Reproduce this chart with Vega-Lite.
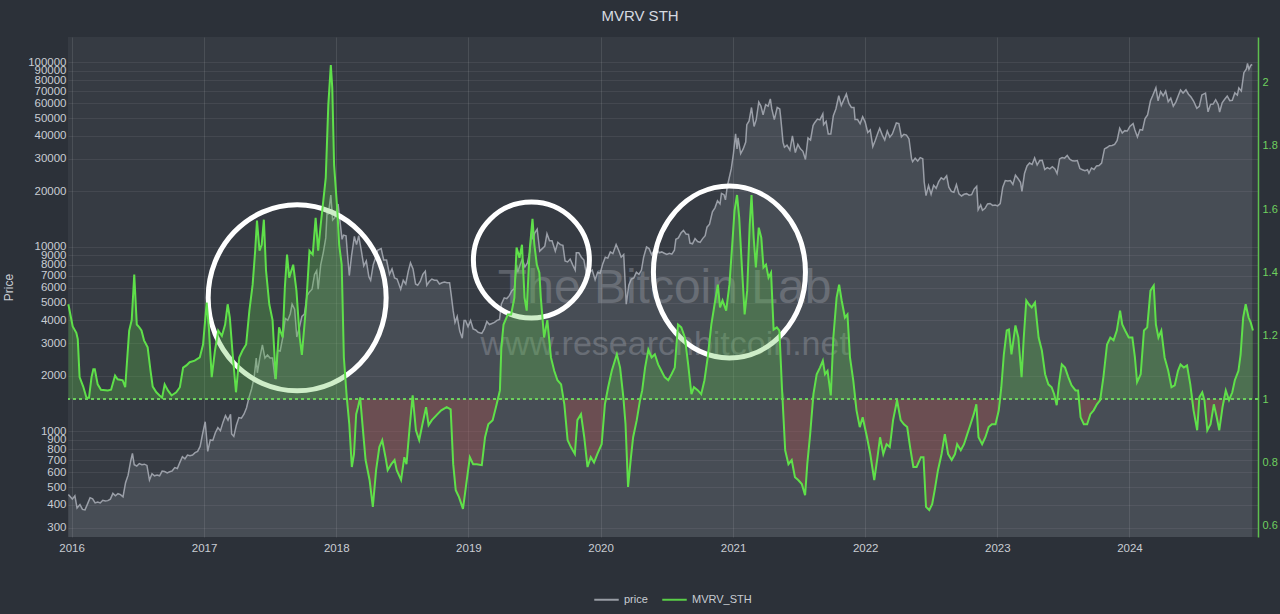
{
"$schema": "https://vega.github.io/schema/vega-lite/v6.json",
"width": 1190, "height": 500, "autosize": "none",
"padding": {"left": 68, "top": 37, "right": 22, "bottom": 77},
"background": "#2c3139",
"title": {"text": "MVRV STH", "color": "#d6dae0", "fontSize": 15, "fontWeight": "normal", "font": "Liberation Sans", "anchor": "middle", "offset": 13, "dx": -23},
"config": {
 "view": {"fill": "#363b43", "stroke": null},
 "font": "Liberation Sans",
 "axis": {"labelFont": "Liberation Sans", "titleFont": "Liberation Sans"}
},
"datasets": {
"price": [
{"date":"2015-12-23","price":455},{"date":"2016-01-03","price":430},{"date":"2016-01-10","price":448},{"date":"2016-01-16","price":385},{"date":"2016-01-24","price":402},{"date":"2016-01-31","price":378},{"date":"2016-02-07","price":376},{"date":"2016-02-14","price":405},{"date":"2016-02-21","price":438},{"date":"2016-02-28","price":432},{"date":"2016-03-06","price":410},{"date":"2016-03-13","price":414},{"date":"2016-03-20","price":410},{"date":"2016-03-27","price":424},{"date":"2016-04-03","price":420},{"date":"2016-04-10","price":422},{"date":"2016-04-17","price":430},{"date":"2016-04-24","price":462},{"date":"2016-05-01","price":448},{"date":"2016-05-08","price":460},{"date":"2016-05-15","price":455},{"date":"2016-05-22","price":443},{"date":"2016-05-29","price":528},{"date":"2016-06-05","price":580},{"date":"2016-06-12","price":690},{"date":"2016-06-17","price":760},{"date":"2016-06-22","price":660},{"date":"2016-06-29","price":650},{"date":"2016-07-06","price":670},{"date":"2016-07-13","price":660},{"date":"2016-07-20","price":665},{"date":"2016-07-27","price":655},{"date":"2016-08-03","price":545},{"date":"2016-08-10","price":590},{"date":"2016-08-17","price":575},{"date":"2016-08-24","price":580},{"date":"2016-08-31","price":575},{"date":"2016-09-07","price":610},{"date":"2016-09-14","price":607},{"date":"2016-09-21","price":597},{"date":"2016-09-28","price":605},{"date":"2016-10-05","price":612},{"date":"2016-10-12","price":637},{"date":"2016-10-19","price":630},{"date":"2016-10-26","price":680},{"date":"2016-11-02","price":730},{"date":"2016-11-09","price":710},{"date":"2016-11-16","price":745},{"date":"2016-11-23","price":740},{"date":"2016-11-30","price":745},{"date":"2016-12-07","price":768},{"date":"2016-12-14","price":780},{"date":"2016-12-21","price":830},{"date":"2016-12-28","price":975},
{"date":"2017-01-04","price":1130},{"date":"2017-01-11","price":780},{"date":"2017-01-18","price":900},{"date":"2017-01-25","price":895},{"date":"2017-02-01","price":985},{"date":"2017-02-08","price":1050},{"date":"2017-02-15","price":1010},{"date":"2017-02-22","price":1120},{"date":"2017-03-01","price":1220},{"date":"2017-03-08","price":1150},{"date":"2017-03-15","price":1240},{"date":"2017-03-18","price":970},{"date":"2017-03-24","price":940},{"date":"2017-03-31","price":1080},{"date":"2017-04-07","price":1190},{"date":"2017-04-14","price":1180},{"date":"2017-04-21","price":1240},{"date":"2017-04-28","price":1340},{"date":"2017-05-05","price":1530},{"date":"2017-05-12","price":1700},{"date":"2017-05-19","price":1960},{"date":"2017-05-25","price":2500},{"date":"2017-05-28","price":2080},{"date":"2017-06-04","price":2520},{"date":"2017-06-11","price":2950},{"date":"2017-06-18","price":2500},{"date":"2017-06-25","price":2600},{"date":"2017-07-02","price":2500},{"date":"2017-07-09","price":2500},{"date":"2017-07-16","price":1930},{"date":"2017-07-23","price":2750},{"date":"2017-07-30","price":2730},{"date":"2017-08-06","price":3220},{"date":"2017-08-13","price":4100},{"date":"2017-08-20","price":4000},{"date":"2017-08-27","price":4350},{"date":"2017-09-01","price":4900},{"date":"2017-09-08","price":4600},{"date":"2017-09-14","price":3250},{"date":"2017-09-21","price":3650},{"date":"2017-09-28","price":4200},{"date":"2017-10-05","price":4330},{"date":"2017-10-12","price":5440},{"date":"2017-10-19","price":5710},{"date":"2017-10-26","price":5900},{"date":"2017-11-02","price":7100},{"date":"2017-11-08","price":7450},{"date":"2017-11-12","price":5900},{"date":"2017-11-19","price":8000},{"date":"2017-11-26","price":9300},{"date":"2017-12-03","price":11200},{"date":"2017-12-07","price":16000},{"date":"2017-12-10","price":15000},{"date":"2017-12-17","price":19100},{"date":"2017-12-22","price":14000},{"date":"2017-12-28","price":14400},
{"date":"2018-01-06","price":17100},{"date":"2018-01-10","price":14500},{"date":"2018-01-17","price":11000},{"date":"2018-01-21","price":11600},{"date":"2018-01-28","price":11500},{"date":"2018-02-01","price":9100},{"date":"2018-02-06","price":7000},{"date":"2018-02-12","price":8900},{"date":"2018-02-20","price":11400},{"date":"2018-02-26","price":10300},{"date":"2018-03-04","price":11500},{"date":"2018-03-11","price":9600},{"date":"2018-03-18","price":7900},{"date":"2018-03-25","price":8400},{"date":"2018-04-01","price":6900},{"date":"2018-04-06","price":6600},{"date":"2018-04-13","price":8000},{"date":"2018-04-20","price":8800},{"date":"2018-04-25","price":9600},{"date":"2018-05-05","price":9800},{"date":"2018-05-12","price":8500},{"date":"2018-05-20","price":8500},{"date":"2018-05-28","price":7100},{"date":"2018-06-04","price":7600},{"date":"2018-06-11","price":6800},{"date":"2018-06-18","price":6700},{"date":"2018-06-28","price":5900},{"date":"2018-07-05","price":6600},{"date":"2018-07-12","price":6300},{"date":"2018-07-19","price":7400},{"date":"2018-07-25","price":8200},{"date":"2018-08-01","price":7600},{"date":"2018-08-08","price":6300},{"date":"2018-08-14","price":6200},{"date":"2018-08-21","price":6500},{"date":"2018-08-28","price":7100},{"date":"2018-09-04","price":7400},{"date":"2018-09-08","price":6200},{"date":"2018-09-15","price":6500},{"date":"2018-09-22","price":6700},{"date":"2018-09-29","price":6600},{"date":"2018-10-06","price":6600},{"date":"2018-10-13","price":6300},{"date":"2018-10-20","price":6400},{"date":"2018-10-27","price":6450},{"date":"2018-11-03","price":6400},{"date":"2018-11-10","price":6400},{"date":"2018-11-14","price":5600},{"date":"2018-11-20","price":4500},{"date":"2018-11-25","price":3900},{"date":"2018-12-01","price":4200},{"date":"2018-12-08","price":3500},{"date":"2018-12-15","price":3200},{"date":"2018-12-20","price":4000},{"date":"2018-12-24","price":4000},{"date":"2018-12-31","price":3700},
{"date":"2019-01-07","price":4000},{"date":"2019-01-14","price":3600},{"date":"2019-01-21","price":3550},{"date":"2019-01-28","price":3450},{"date":"2019-02-07","price":3400},{"date":"2019-02-14","price":3600},{"date":"2019-02-21","price":3950},{"date":"2019-02-28","price":3800},{"date":"2019-03-07","price":3850},{"date":"2019-03-14","price":3900},{"date":"2019-03-21","price":4000},{"date":"2019-03-28","price":4050},{"date":"2019-04-02","price":4900},{"date":"2019-04-10","price":5300},{"date":"2019-04-17","price":5250},{"date":"2019-04-24","price":5450},{"date":"2019-05-01","price":5800},{"date":"2019-05-08","price":5950},{"date":"2019-05-14","price":8000},{"date":"2019-05-17","price":7300},{"date":"2019-05-24","price":8000},{"date":"2019-05-30","price":8600},{"date":"2019-06-06","price":7800},{"date":"2019-06-13","price":8200},{"date":"2019-06-20","price":9500},{"date":"2019-06-26","price":12900},{"date":"2019-06-28","price":11000},{"date":"2019-07-03","price":11900},{"date":"2019-07-10","price":12500},{"date":"2019-07-17","price":9500},{"date":"2019-07-24","price":9800},{"date":"2019-07-31","price":10100},{"date":"2019-08-06","price":11800},{"date":"2019-08-13","price":10800},{"date":"2019-08-20","price":10800},{"date":"2019-08-29","price":9500},{"date":"2019-09-05","price":10600},{"date":"2019-09-12","price":10300},{"date":"2019-09-19","price":10200},{"date":"2019-09-25","price":8400},{"date":"2019-10-02","price":8300},{"date":"2019-10-09","price":8600},{"date":"2019-10-16","price":8000},{"date":"2019-10-23","price":7500},{"date":"2019-10-26","price":9300},{"date":"2019-11-02","price":9300},{"date":"2019-11-09","price":8800},{"date":"2019-11-16","price":8500},{"date":"2019-11-22","price":7300},{"date":"2019-11-25","price":7000},{"date":"2019-12-02","price":7300},{"date":"2019-12-09","price":7500},{"date":"2019-12-17","price":6650},{"date":"2019-12-24","price":7300},{"date":"2019-12-31","price":7200},
{"date":"2020-01-07","price":8100},{"date":"2020-01-14","price":8800},{"date":"2020-01-21","price":8700},{"date":"2020-01-28","price":9400},{"date":"2020-02-04","price":9200},{"date":"2020-02-13","price":10300},{"date":"2020-02-20","price":9600},{"date":"2020-02-27","price":8800},{"date":"2020-03-05","price":9100},{"date":"2020-03-12","price":4900},{"date":"2020-03-19","price":6200},{"date":"2020-03-26","price":6700},{"date":"2020-04-02","price":6800},{"date":"2020-04-09","price":7300},{"date":"2020-04-16","price":7100},{"date":"2020-04-23","price":7500},{"date":"2020-04-29","price":8800},{"date":"2020-05-07","price":10000},{"date":"2020-05-14","price":9800},{"date":"2020-05-21","price":9100},{"date":"2020-05-28","price":9600},{"date":"2020-06-04","price":9800},{"date":"2020-06-11","price":9300},{"date":"2020-06-18","price":9400},{"date":"2020-06-25","price":9250},{"date":"2020-07-02","price":9100},{"date":"2020-07-09","price":9250},{"date":"2020-07-16","price":9150},{"date":"2020-07-23","price":9600},{"date":"2020-07-27","price":11000},{"date":"2020-08-03","price":11200},{"date":"2020-08-10","price":11900},{"date":"2020-08-17","price":12300},{"date":"2020-08-24","price":11750},{"date":"2020-08-31","price":11700},{"date":"2020-09-04","price":10500},{"date":"2020-09-11","price":10400},{"date":"2020-09-18","price":11100},{"date":"2020-09-25","price":10700},{"date":"2020-10-02","price":10600},{"date":"2020-10-09","price":11100},{"date":"2020-10-16","price":11500},{"date":"2020-10-21","price":12800},{"date":"2020-10-28","price":13300},{"date":"2020-11-05","price":15500},{"date":"2020-11-12","price":16300},{"date":"2020-11-19","price":17800},{"date":"2020-11-26","price":17100},{"date":"2020-11-30","price":19500},{"date":"2020-12-07","price":19200},{"date":"2020-12-11","price":18000},{"date":"2020-12-16","price":21300},{"date":"2020-12-21","price":23500},{"date":"2020-12-27","price":26500},
{"date":"2021-01-02","price":32000},{"date":"2021-01-08","price":41000},{"date":"2021-01-12","price":34000},{"date":"2021-01-15","price":39000},{"date":"2021-01-22","price":32000},{"date":"2021-01-29","price":34000},{"date":"2021-02-05","price":37000},{"date":"2021-02-08","price":46000},{"date":"2021-02-14","price":48000},{"date":"2021-02-21","price":57000},{"date":"2021-02-28","price":45000},{"date":"2021-03-06","price":49000},{"date":"2021-03-13","price":61000},{"date":"2021-03-19","price":58000},{"date":"2021-03-25","price":52000},{"date":"2021-04-01","price":59000},{"date":"2021-04-08","price":58000},{"date":"2021-04-14","price":63500},{"date":"2021-04-18","price":56000},{"date":"2021-04-25","price":49000},{"date":"2021-05-03","price":57000},{"date":"2021-05-10","price":56000},{"date":"2021-05-13","price":49500},{"date":"2021-05-19","price":37000},{"date":"2021-05-23","price":34700},{"date":"2021-05-30","price":35600},{"date":"2021-06-07","price":33500},{"date":"2021-06-14","price":40000},{"date":"2021-06-22","price":32500},{"date":"2021-06-29","price":36000},{"date":"2021-07-06","price":34000},{"date":"2021-07-13","price":33000},{"date":"2021-07-20","price":29800},{"date":"2021-07-27","price":39000},{"date":"2021-08-03","price":38000},{"date":"2021-08-10","price":45500},{"date":"2021-08-14","price":47000},{"date":"2021-08-22","price":49300},{"date":"2021-08-29","price":48800},{"date":"2021-09-06","price":52600},{"date":"2021-09-08","price":46000},{"date":"2021-09-15","price":48000},{"date":"2021-09-21","price":41000},{"date":"2021-09-28","price":41000},{"date":"2021-10-05","price":51500},{"date":"2021-10-12","price":56000},{"date":"2021-10-20","price":66000},{"date":"2021-10-27","price":58500},{"date":"2021-11-03","price":62900},{"date":"2021-11-10","price":67500},{"date":"2021-11-17","price":60000},{"date":"2021-11-24","price":57000},{"date":"2021-12-01","price":57000},{"date":"2021-12-04","price":49000},{"date":"2021-12-11","price":49000},{"date":"2021-12-18","price":46500},{"date":"2021-12-25","price":50800},
{"date":"2022-01-01","price":47500},{"date":"2022-01-08","price":41700},{"date":"2022-01-15","price":43100},{"date":"2022-01-22","price":35000},{"date":"2022-01-29","price":37900},{"date":"2022-02-05","price":41500},{"date":"2022-02-10","price":44000},{"date":"2022-02-17","price":40500},{"date":"2022-02-24","price":38000},{"date":"2022-03-03","price":42500},{"date":"2022-03-10","price":39400},{"date":"2022-03-17","price":41000},{"date":"2022-03-28","price":47000},{"date":"2022-04-04","price":46600},{"date":"2022-04-11","price":39500},{"date":"2022-04-18","price":40800},{"date":"2022-04-25","price":40400},{"date":"2022-05-02","price":38500},{"date":"2022-05-09","price":30100},{"date":"2022-05-12","price":29000},{"date":"2022-05-19","price":30300},{"date":"2022-05-26","price":29200},{"date":"2022-06-02","price":30500},{"date":"2022-06-09","price":30100},{"date":"2022-06-13","price":22500},{"date":"2022-06-18","price":19000},{"date":"2022-06-25","price":21500},{"date":"2022-07-02","price":19300},{"date":"2022-07-09","price":21600},{"date":"2022-07-16","price":20800},{"date":"2022-07-23","price":22600},{"date":"2022-07-30","price":23700},{"date":"2022-08-06","price":23200},{"date":"2022-08-14","price":24300},{"date":"2022-08-20","price":21100},{"date":"2022-08-27","price":20000},{"date":"2022-09-03","price":19800},{"date":"2022-09-10","price":21800},{"date":"2022-09-17","price":19400},{"date":"2022-09-24","price":18900},{"date":"2022-10-01","price":19300},{"date":"2022-10-08","price":19450},{"date":"2022-10-15","price":19100},{"date":"2022-10-22","price":19200},{"date":"2022-10-29","price":20600},{"date":"2022-11-05","price":21300},{"date":"2022-11-09","price":15900},{"date":"2022-11-16","price":16900},{"date":"2022-11-21","price":15800},{"date":"2022-11-28","price":16200},{"date":"2022-12-05","price":17100},{"date":"2022-12-12","price":17200},{"date":"2022-12-19","price":16800},{"date":"2022-12-26","price":16900},
{"date":"2023-01-02","price":16700},{"date":"2023-01-09","price":17200},{"date":"2023-01-16","price":21100},{"date":"2023-01-23","price":22900},{"date":"2023-01-30","price":22800},{"date":"2023-02-06","price":22900},{"date":"2023-02-13","price":21800},{"date":"2023-02-20","price":24500},{"date":"2023-02-27","price":23500},{"date":"2023-03-06","price":22400},{"date":"2023-03-10","price":20000},{"date":"2023-03-17","price":25000},{"date":"2023-03-24","price":27500},{"date":"2023-03-31","price":28500},{"date":"2023-04-07","price":28000},{"date":"2023-04-14","price":30400},{"date":"2023-04-21","price":27800},{"date":"2023-04-28","price":29400},{"date":"2023-05-05","price":29500},{"date":"2023-05-12","price":26300},{"date":"2023-05-19","price":26900},{"date":"2023-05-26","price":26500},{"date":"2023-06-02","price":27200},{"date":"2023-06-09","price":26500},{"date":"2023-06-15","price":25000},{"date":"2023-06-22","price":30000},{"date":"2023-06-29","price":30500},{"date":"2023-07-06","price":30300},{"date":"2023-07-13","price":31300},{"date":"2023-07-20","price":29900},{"date":"2023-07-27","price":29300},{"date":"2023-08-03","price":29200},{"date":"2023-08-10","price":29400},{"date":"2023-08-17","price":26600},{"date":"2023-08-24","price":26200},{"date":"2023-08-31","price":25900},{"date":"2023-09-07","price":26200},{"date":"2023-09-11","price":25100},{"date":"2023-09-18","price":26800},{"date":"2023-09-25","price":26300},{"date":"2023-10-02","price":27500},{"date":"2023-10-09","price":27600},{"date":"2023-10-16","price":28500},{"date":"2023-10-24","price":34000},{"date":"2023-10-31","price":34600},{"date":"2023-11-07","price":35400},{"date":"2023-11-14","price":35500},{"date":"2023-11-21","price":36000},{"date":"2023-11-28","price":37800},{"date":"2023-12-05","price":44000},{"date":"2023-12-12","price":41500},{"date":"2023-12-19","price":42700},{"date":"2023-12-26","price":42500},
{"date":"2024-01-02","price":45000},{"date":"2024-01-11","price":46600},{"date":"2024-01-16","price":43100},{"date":"2024-01-23","price":39500},{"date":"2024-01-30","price":43300},{"date":"2024-02-06","price":43000},{"date":"2024-02-13","price":49700},{"date":"2024-02-20","price":52000},{"date":"2024-02-28","price":62000},{"date":"2024-03-05","price":66000},{"date":"2024-03-14","price":73000},{"date":"2024-03-20","price":62000},{"date":"2024-03-27","price":69500},{"date":"2024-04-03","price":66000},{"date":"2024-04-10","price":70000},{"date":"2024-04-17","price":61300},{"date":"2024-04-24","price":64000},{"date":"2024-05-01","price":58000},{"date":"2024-05-08","price":61000},{"date":"2024-05-15","price":66200},{"date":"2024-05-21","price":71000},{"date":"2024-05-28","price":68300},{"date":"2024-06-05","price":71100},{"date":"2024-06-12","price":67300},{"date":"2024-06-19","price":65000},{"date":"2024-06-26","price":61800},{"date":"2024-07-05","price":56500},{"date":"2024-07-12","price":57900},{"date":"2024-07-19","price":66700},{"date":"2024-07-29","price":68200},{"date":"2024-08-05","price":54000},{"date":"2024-08-12","price":59300},{"date":"2024-08-19","price":59500},{"date":"2024-08-26","price":62800},{"date":"2024-09-02","price":59100},{"date":"2024-09-06","price":53900},{"date":"2024-09-13","price":60500},{"date":"2024-09-20","price":63200},{"date":"2024-09-27","price":65800},{"date":"2024-10-04","price":62100},{"date":"2024-10-11","price":62400},{"date":"2024-10-18","price":68400},{"date":"2024-10-25","price":66600},{"date":"2024-10-29","price":72700},{"date":"2024-11-05","price":70000},{"date":"2024-11-12","price":88000},{"date":"2024-11-19","price":92300},{"date":"2024-11-22","price":98900},{"date":"2024-11-26","price":91900},{"date":"2024-12-01","price":96500},{"date":"2024-12-05","price":97500}
],
"mvrv": [
{"date":"2015-12-23","mvrv":1.30},{"date":"2016-01-04","mvrv":1.23},{"date":"2016-01-14","mvrv":1.21},{"date":"2016-01-18","mvrv":1.19},{"date":"2016-01-23","mvrv":1.07},{"date":"2016-02-02","mvrv":1.04},{"date":"2016-02-11","mvrv":1.005},{"date":"2016-02-18","mvrv":1.005},{"date":"2016-02-25","mvrv":1.07},{"date":"2016-03-01","mvrv":1.095},{"date":"2016-03-05","mvrv":1.095},{"date":"2016-03-13","mvrv":1.047},{"date":"2016-03-22","mvrv":1.03},{"date":"2016-04-10","mvrv":1.028},{"date":"2016-04-19","mvrv":1.03},{"date":"2016-04-30","mvrv":1.075},{"date":"2016-05-07","mvrv":1.063},{"date":"2016-05-21","mvrv":1.06},{"date":"2016-05-28","mvrv":1.038},{"date":"2016-06-08","mvrv":1.217},{"date":"2016-06-15","mvrv":1.25},{"date":"2016-06-22","mvrv":1.394},{"date":"2016-06-29","mvrv":1.236},{"date":"2016-07-06","mvrv":1.227},{"date":"2016-07-12","mvrv":1.217},{"date":"2016-07-19","mvrv":1.186},{"date":"2016-07-29","mvrv":1.164},{"date":"2016-08-06","mvrv":1.09},{"date":"2016-08-12","mvrv":1.04},{"date":"2016-08-22","mvrv":1.022},{"date":"2016-08-31","mvrv":1.012},{"date":"2016-09-07","mvrv":1.005},{"date":"2016-09-14","mvrv":1.047},{"date":"2016-09-23","mvrv":1.028},{"date":"2016-10-03","mvrv":1.012},{"date":"2016-10-16","mvrv":1.022},{"date":"2016-10-26","mvrv":1.038},{"date":"2016-11-04","mvrv":1.10},{"date":"2016-11-13","mvrv":1.107},{"date":"2016-11-22","mvrv":1.117},{"date":"2016-12-06","mvrv":1.122},{"date":"2016-12-20","mvrv":1.132},{"date":"2016-12-29","mvrv":1.173},
{"date":"2017-01-08","mvrv":1.305},{"date":"2017-01-14","mvrv":1.227},{"date":"2017-01-22","mvrv":1.07},{"date":"2017-01-31","mvrv":1.154},{"date":"2017-02-09","mvrv":1.217},{"date":"2017-02-19","mvrv":1.20},{"date":"2017-02-28","mvrv":1.236},{"date":"2017-03-07","mvrv":1.30},{"date":"2017-03-13","mvrv":1.258},{"date":"2017-03-20","mvrv":1.154},{"date":"2017-03-30","mvrv":1.022},{"date":"2017-04-08","mvrv":1.132},{"date":"2017-04-17","mvrv":1.154},{"date":"2017-04-27","mvrv":1.173},{"date":"2017-05-06","mvrv":1.28},{"date":"2017-05-15","mvrv":1.362},{"date":"2017-05-22","mvrv":1.469},{"date":"2017-05-27","mvrv":1.564},{"date":"2017-06-03","mvrv":1.469},{"date":"2017-06-09","mvrv":1.488},{"date":"2017-06-15","mvrv":1.567},{"date":"2017-06-21","mvrv":1.406},{"date":"2017-06-30","mvrv":1.30},{"date":"2017-07-09","mvrv":1.25},{"date":"2017-07-18","mvrv":1.063},{"date":"2017-07-27","mvrv":1.227},{"date":"2017-08-06","mvrv":1.195},{"date":"2017-08-12","mvrv":1.353},{"date":"2017-08-18","mvrv":1.457},{"date":"2017-08-24","mvrv":1.384},{"date":"2017-09-04","mvrv":1.425},{"date":"2017-09-13","mvrv":1.343},{"date":"2017-09-22","mvrv":1.195},{"date":"2017-09-28","mvrv":1.14},{"date":"2017-10-10","mvrv":1.30},{"date":"2017-10-19","mvrv":1.469},{"date":"2017-10-28","mvrv":1.457},{"date":"2017-11-05","mvrv":1.573},{"date":"2017-11-12","mvrv":1.469},{"date":"2017-11-19","mvrv":1.551},{"date":"2017-11-25","mvrv":1.614},{"date":"2017-12-03","mvrv":1.70},{"date":"2017-12-10","mvrv":1.929},{"date":"2017-12-17","mvrv":2.055},{"date":"2017-12-21","mvrv":1.983},{"date":"2017-12-26","mvrv":1.74},
{"date":"2018-01-04","mvrv":1.595},{"date":"2018-01-09","mvrv":1.488},{"date":"2018-01-16","mvrv":1.425},{"date":"2018-01-22","mvrv":1.132},{"date":"2018-01-30","mvrv":1.006},{"date":"2018-02-06","mvrv":0.921},{"date":"2018-02-13","mvrv":0.786},{"date":"2018-02-19","mvrv":0.827},{"date":"2018-02-25","mvrv":0.953},{"date":"2018-03-02","mvrv":0.975},{"date":"2018-03-08","mvrv":1.006},{"date":"2018-03-15","mvrv":0.912},{"date":"2018-03-23","mvrv":0.808},{"date":"2018-04-03","mvrv":0.745},{"date":"2018-04-12","mvrv":0.66},{"date":"2018-04-21","mvrv":0.776},{"date":"2018-04-30","mvrv":0.849},{"date":"2018-05-08","mvrv":0.871},{"date":"2018-05-17","mvrv":0.817},{"date":"2018-05-23","mvrv":0.776},{"date":"2018-06-02","mvrv":0.795},{"date":"2018-06-11","mvrv":0.808},{"date":"2018-06-17","mvrv":0.776},{"date":"2018-06-29","mvrv":0.745},{"date":"2018-07-08","mvrv":0.817},{"date":"2018-07-14","mvrv":0.795},{"date":"2018-07-22","mvrv":0.902},{"date":"2018-07-31","mvrv":1.012},{"date":"2018-08-09","mvrv":0.902},{"date":"2018-08-18","mvrv":0.871},{"date":"2018-08-27","mvrv":0.921},{"date":"2018-09-06","mvrv":0.975},{"date":"2018-09-13","mvrv":0.918},{"date":"2018-09-22","mvrv":0.934},{"date":"2018-10-05","mvrv":0.95},{"date":"2018-10-18","mvrv":0.965},{"date":"2018-11-02","mvrv":0.975},{"date":"2018-11-13","mvrv":0.968},{"date":"2018-11-20","mvrv":0.795},{"date":"2018-11-27","mvrv":0.713},{"date":"2018-12-06","mvrv":0.691},{"date":"2018-12-17","mvrv":0.654},{"date":"2018-12-26","mvrv":0.732},
{"date":"2019-01-05","mvrv":0.817},{"date":"2019-01-14","mvrv":0.795},{"date":"2019-01-24","mvrv":0.795},{"date":"2019-02-07","mvrv":0.792},{"date":"2019-02-16","mvrv":0.88},{"date":"2019-02-25","mvrv":0.921},{"date":"2019-03-09","mvrv":0.934},{"date":"2019-03-20","mvrv":0.984},{"date":"2019-03-29","mvrv":1.028},{"date":"2019-04-02","mvrv":1.164},{"date":"2019-04-08","mvrv":1.236},{"date":"2019-04-20","mvrv":1.268},{"date":"2019-04-29","mvrv":1.268},{"date":"2019-05-08","mvrv":1.321},{"date":"2019-05-14","mvrv":1.479},{"date":"2019-05-22","mvrv":1.447},{"date":"2019-05-29","mvrv":1.488},{"date":"2019-06-05","mvrv":1.321},{"date":"2019-06-11","mvrv":1.28},{"date":"2019-06-19","mvrv":1.469},{"date":"2019-06-27","mvrv":1.57},{"date":"2019-07-02","mvrv":1.49},{"date":"2019-07-09","mvrv":1.425},{"date":"2019-07-16","mvrv":1.40},{"date":"2019-07-20","mvrv":1.321},{"date":"2019-07-29","mvrv":1.195},{"date":"2019-08-07","mvrv":1.25},{"date":"2019-08-17","mvrv":1.132},{"date":"2019-08-26","mvrv":1.09},{"date":"2019-09-04","mvrv":1.06},{"date":"2019-09-14","mvrv":1.047},{"date":"2019-09-23","mvrv":0.984},{"date":"2019-10-02","mvrv":0.871},{"date":"2019-10-11","mvrv":0.849},{"date":"2019-10-22","mvrv":0.827},{"date":"2019-10-29","mvrv":0.934},{"date":"2019-11-08","mvrv":0.953},{"date":"2019-11-17","mvrv":0.88},{"date":"2019-11-26","mvrv":0.786},{"date":"2019-12-05","mvrv":0.817},{"date":"2019-12-14","mvrv":0.80},{"date":"2019-12-23","mvrv":0.827},
{"date":"2020-01-04","mvrv":0.858},{"date":"2020-01-13","mvrv":0.984},{"date":"2020-01-22","mvrv":1.038},{"date":"2020-02-01","mvrv":1.09},{"date":"2020-02-15","mvrv":1.142},{"date":"2020-02-24","mvrv":1.10},{"date":"2020-03-04","mvrv":1.006},{"date":"2020-03-10","mvrv":0.921},{"date":"2020-03-17","mvrv":0.723},{"date":"2020-03-25","mvrv":0.817},{"date":"2020-03-31","mvrv":0.88},{"date":"2020-04-10","mvrv":0.934},{"date":"2020-04-19","mvrv":0.997},{"date":"2020-04-25","mvrv":1.028},{"date":"2020-05-03","mvrv":1.10},{"date":"2020-05-12","mvrv":1.157},{"date":"2020-05-21","mvrv":1.132},{"date":"2020-05-30","mvrv":1.142},{"date":"2020-06-08","mvrv":1.11},{"date":"2020-06-17","mvrv":1.09},{"date":"2020-06-26","mvrv":1.07},{"date":"2020-07-06","mvrv":1.06},{"date":"2020-07-15","mvrv":1.079},{"date":"2020-07-24","mvrv":1.10},{"date":"2020-08-02","mvrv":1.236},{"date":"2020-08-11","mvrv":1.227},{"date":"2020-08-21","mvrv":1.195},{"date":"2020-08-30","mvrv":1.11},{"date":"2020-09-08","mvrv":1.016},{"date":"2020-09-15","mvrv":1.038},{"date":"2020-09-26","mvrv":1.028},{"date":"2020-10-05","mvrv":1.016},{"date":"2020-10-14","mvrv":1.06},{"date":"2020-10-23","mvrv":1.132},{"date":"2020-11-02","mvrv":1.236},{"date":"2020-11-11","mvrv":1.30},{"date":"2020-11-20","mvrv":1.362},{"date":"2020-11-26","mvrv":1.29},{"date":"2020-12-03","mvrv":1.312},{"date":"2020-12-13","mvrv":1.28},{"date":"2020-12-22","mvrv":1.362},{"date":"2020-12-31","mvrv":1.51},
{"date":"2021-01-05","mvrv":1.595},{"date":"2021-01-12","mvrv":1.645},{"date":"2021-01-18","mvrv":1.573},{"date":"2021-01-26","mvrv":1.406},{"date":"2021-02-02","mvrv":1.268},{"date":"2021-02-09","mvrv":1.343},{"date":"2021-02-16","mvrv":1.551},{"date":"2021-02-21","mvrv":1.645},{"date":"2021-02-27","mvrv":1.51},{"date":"2021-03-05","mvrv":1.416},{"date":"2021-03-13","mvrv":1.542},{"date":"2021-03-20","mvrv":1.51},{"date":"2021-03-26","mvrv":1.416},{"date":"2021-04-02","mvrv":1.425},{"date":"2021-04-09","mvrv":1.384},{"date":"2021-04-16","mvrv":1.40},{"date":"2021-04-23","mvrv":1.22},{"date":"2021-05-02","mvrv":1.227},{"date":"2021-05-09","mvrv":1.217},{"date":"2021-05-16","mvrv":1.038},{"date":"2021-05-25","mvrv":0.839},{"date":"2021-06-03","mvrv":0.795},{"date":"2021-06-12","mvrv":0.808},{"date":"2021-06-21","mvrv":0.754},{"date":"2021-06-30","mvrv":0.745},{"date":"2021-07-10","mvrv":0.732},{"date":"2021-07-19","mvrv":0.697},{"date":"2021-07-25","mvrv":0.795},{"date":"2021-08-02","mvrv":0.89},{"date":"2021-08-11","mvrv":1.016},{"date":"2021-08-20","mvrv":1.079},{"date":"2021-08-29","mvrv":1.10},{"date":"2021-09-06","mvrv":1.122},{"date":"2021-09-12","mvrv":1.079},{"date":"2021-09-19","mvrv":1.09},{"date":"2021-09-28","mvrv":1.012},{"date":"2021-10-05","mvrv":1.195},{"date":"2021-10-14","mvrv":1.321},{"date":"2021-10-21","mvrv":1.362},{"date":"2021-10-28","mvrv":1.312},{"date":"2021-11-06","mvrv":1.258},{"date":"2021-11-13","mvrv":1.268},{"date":"2021-11-20","mvrv":1.132},{"date":"2021-11-29","mvrv":1.06},{"date":"2021-12-08","mvrv":0.965},{"date":"2021-12-17","mvrv":0.912},{"date":"2021-12-25","mvrv":0.943},
{"date":"2022-01-06","mvrv":0.88},{"date":"2022-01-15","mvrv":0.827},{"date":"2022-01-26","mvrv":0.745},{"date":"2022-02-04","mvrv":0.817},{"date":"2022-02-11","mvrv":0.88},{"date":"2022-02-20","mvrv":0.827},{"date":"2022-03-01","mvrv":0.858},{"date":"2022-03-10","mvrv":0.849},{"date":"2022-03-19","mvrv":0.934},{"date":"2022-03-30","mvrv":0.997},{"date":"2022-04-09","mvrv":0.934},{"date":"2022-04-18","mvrv":0.921},{"date":"2022-04-27","mvrv":0.912},{"date":"2022-05-05","mvrv":0.849},{"date":"2022-05-14","mvrv":0.786},{"date":"2022-05-23","mvrv":0.786},{"date":"2022-06-04","mvrv":0.817},{"date":"2022-06-11","mvrv":0.817},{"date":"2022-06-18","mvrv":0.66},{"date":"2022-06-27","mvrv":0.65},{"date":"2022-07-05","mvrv":0.669},{"date":"2022-07-12","mvrv":0.713},{"date":"2022-07-21","mvrv":0.776},{"date":"2022-07-31","mvrv":0.827},{"date":"2022-08-09","mvrv":0.89},{"date":"2022-08-18","mvrv":0.827},{"date":"2022-08-28","mvrv":0.808},{"date":"2022-09-06","mvrv":0.827},{"date":"2022-09-12","mvrv":0.858},{"date":"2022-09-22","mvrv":0.839},{"date":"2022-10-01","mvrv":0.858},{"date":"2022-10-10","mvrv":0.89},{"date":"2022-10-19","mvrv":0.921},{"date":"2022-10-28","mvrv":0.953},{"date":"2022-11-04","mvrv":0.984},{"date":"2022-11-10","mvrv":0.88},{"date":"2022-11-20","mvrv":0.858},{"date":"2022-11-29","mvrv":0.88},{"date":"2022-12-08","mvrv":0.912},{"date":"2022-12-17","mvrv":0.921},{"date":"2022-12-27","mvrv":0.921},
{"date":"2023-01-05","mvrv":0.965},{"date":"2023-01-12","mvrv":1.038},{"date":"2023-01-19","mvrv":1.142},{"date":"2023-01-27","mvrv":1.217},{"date":"2023-02-02","mvrv":1.22},{"date":"2023-02-09","mvrv":1.142},{"date":"2023-02-20","mvrv":1.233},{"date":"2023-02-28","mvrv":1.195},{"date":"2023-03-09","mvrv":1.07},{"date":"2023-03-15","mvrv":1.195},{"date":"2023-03-22","mvrv":1.312},{"date":"2023-03-29","mvrv":1.30},{"date":"2023-04-06","mvrv":1.29},{"date":"2023-04-15","mvrv":1.305},{"date":"2023-04-25","mvrv":1.195},{"date":"2023-05-04","mvrv":1.154},{"date":"2023-05-13","mvrv":1.079},{"date":"2023-05-22","mvrv":1.047},{"date":"2023-05-31","mvrv":1.038},{"date":"2023-06-07","mvrv":1.016},{"date":"2023-06-14","mvrv":0.981},{"date":"2023-06-20","mvrv":1.047},{"date":"2023-06-28","mvrv":1.11},{"date":"2023-07-07","mvrv":1.10},{"date":"2023-07-16","mvrv":1.07},{"date":"2023-07-25","mvrv":1.044},{"date":"2023-08-05","mvrv":1.028},{"date":"2023-08-12","mvrv":1.028},{"date":"2023-08-19","mvrv":0.943},{"date":"2023-08-28","mvrv":0.921},{"date":"2023-09-06","mvrv":0.921},{"date":"2023-09-15","mvrv":0.953},{"date":"2023-09-24","mvrv":0.965},{"date":"2023-10-03","mvrv":0.984},{"date":"2023-10-12","mvrv":0.997},{"date":"2023-10-21","mvrv":1.07},{"date":"2023-10-31","mvrv":1.173},{"date":"2023-11-09","mvrv":1.195},{"date":"2023-11-18","mvrv":1.186},{"date":"2023-11-27","mvrv":1.217},{"date":"2023-12-06","mvrv":1.28},{"date":"2023-12-12","mvrv":1.236},{"date":"2023-12-20","mvrv":1.217},{"date":"2023-12-30","mvrv":1.195},
{"date":"2024-01-09","mvrv":1.195},{"date":"2024-01-16","mvrv":1.132},{"date":"2024-01-22","mvrv":1.054},{"date":"2024-02-01","mvrv":1.079},{"date":"2024-02-10","mvrv":1.217},{"date":"2024-02-19","mvrv":1.227},{"date":"2024-02-28","mvrv":1.343},{"date":"2024-03-08","mvrv":1.359},{"date":"2024-03-14","mvrv":1.236},{"date":"2024-03-21","mvrv":1.195},{"date":"2024-03-29","mvrv":1.217},{"date":"2024-04-07","mvrv":1.132},{"date":"2024-04-17","mvrv":1.09},{"date":"2024-04-26","mvrv":1.038},{"date":"2024-05-05","mvrv":1.044},{"date":"2024-05-14","mvrv":1.09},{"date":"2024-05-21","mvrv":1.11},{"date":"2024-05-30","mvrv":1.10},{"date":"2024-06-08","mvrv":1.107},{"date":"2024-06-17","mvrv":1.047},{"date":"2024-06-26","mvrv":0.965},{"date":"2024-07-06","mvrv":0.902},{"date":"2024-07-12","mvrv":1.006},{"date":"2024-07-20","mvrv":1.022},{"date":"2024-07-26","mvrv":0.997},{"date":"2024-08-03","mvrv":0.902},{"date":"2024-08-12","mvrv":0.921},{"date":"2024-08-21","mvrv":0.984},{"date":"2024-08-29","mvrv":0.943},{"date":"2024-09-05","mvrv":0.902},{"date":"2024-09-14","mvrv":0.975},{"date":"2024-09-23","mvrv":1.028},{"date":"2024-10-02","mvrv":0.997},{"date":"2024-10-11","mvrv":1.022},{"date":"2024-10-18","mvrv":1.06},{"date":"2024-10-28","mvrv":1.09},{"date":"2024-11-03","mvrv":1.142},{"date":"2024-11-10","mvrv":1.258},{"date":"2024-11-17","mvrv":1.30},{"date":"2024-11-25","mvrv":1.258},{"date":"2024-12-01","mvrv":1.242},{"date":"2024-12-07","mvrv":1.217}
],
"circles": [
{"id":"c1","date":"2017-09-15","price":5300},
{"id":"c2","date":"2019-06-24","price":8500},
{"id":"c3","date":"2020-12-22","price":7320}
],
"watermark": [
{"label":"The Bitcoin Lab","date":"2020-06-26","price":5950},
{"label":"www.researchbitcoin.net","date":"2020-06-26","price":2940}
]
},
"layer": [
{
 "encoding": {
  "x": {"field":"date","type":"temporal",
   "scale":{"domain":[{"year":2015,"month":12,"date":22},{"year":2024,"month":12,"date":21}]},
   "axis":{"title":null,"format":"%Y","values":[{"year":2016,"month":1,"date":1},{"year":2017,"month":1,"date":1},{"year":2018,"month":1,"date":1},{"year":2019,"month":1,"date":1},{"year":2020,"month":1,"date":1},{"year":2021,"month":1,"date":1},{"year":2022,"month":1,"date":1},{"year":2023,"month":1,"date":1},{"year":2024,"month":1,"date":1}],
    "grid":true,"gridColor":"#ffffff","gridOpacity":0.1,"domain":false,"ticks":false,"labelColor":"#c9cdd3","labelFontSize":11.5,"labelPadding":5}},
  "y": {"field":"price","type":"quantitative",
   "scale":{"type":"log","domain":[268,137400],"nice":false,"clamp":true},
   "axis":{"orient":"left","title":"Price","titleColor":"#c9cdd3","titleFontSize":12,"titleFontWeight":"normal","titlePadding":12,
    "values":[300,400,500,600,700,800,900,1000,2000,3000,4000,5000,6000,7000,8000,9000,10000,20000,30000,40000,50000,60000,70000,80000,90000,100000],
    "labelOverlap":false,"labelBound":false,
    "format":"d","labelColor":"#c9cdd3","labelFontSize":11.5,"labelPadding":2,"grid":true,"gridColor":"#ffffff","gridOpacity":0.07,"domain":false,"ticks":false}}
 },
 "layer": [
  {"data":{"name":"price"},"mark":{"type":"area","color":"#a3a8b0","opacity":0.17},"encoding":{"y2":{"datum":268}}},
  {"data":{"name":"price"},"mark":{"type":"line","strokeWidth":1.5,"opacity":0.9},"encoding":{"color":{"datum":"price","type":"nominal","scale":{"domain":["price","MVRV_STH"],"range":["#a4a9b1","#5fe04a"]},"legend":{"orient":"none","legendX":525,"legendY":549,"direction":"horizontal","title":null,"symbolType":"stroke","symbolStrokeWidth":2,"symbolSize":600,"labelColor":"#c9cdd3","labelFontSize":11,"columnPadding":10}}}},
  {"data":{"name":"watermark"},"mark":{"type":"text","color":"#b4b9c0","opacity":0.3,"baseline":"middle","align":"center","font":"Liberation Sans"},"encoding":{"text":{"field":"label","type":"nominal"},"size":{"field":"label","type":"nominal","scale":{"domain":["The Bitcoin Lab","www.researchbitcoin.net"],"range":[48,34]},"legend":null}}},
  {"data":{"name":"circles"},"transform":[{"filter":{"field":"id","equal":"c1"}}],"mark":{"type":"point","filled":false,"stroke":"#ffffff","strokeWidth":5,"opacity":1,"size":34596,"shape":"M -0.957 0 C -0.957 -0.552 -0.529 -1 0 -1 C 0.529 -1 0.957 -0.552 0.957 0 C 0.957 0.552 0.529 1 0 1 C -0.529 1 -0.957 0.552 -0.957 0 Z"}},
  {"data":{"name":"circles"},"transform":[{"filter":{"field":"id","equal":"c2"}}],"mark":{"type":"point","filled":false,"stroke":"#ffffff","strokeWidth":5,"opacity":1,"size":13456,"shape":"M -1 0 C -1 -0.552 -0.552 -1 0 -1 C 0.552 -1 1 -0.552 1 0 C 1 0.552 0.552 1 0 1 C -0.552 1 -1 0.552 -1 0 Z"}},
  {"data":{"name":"circles"},"transform":[{"filter":{"field":"id","equal":"c3"}}],"mark":{"type":"point","filled":false,"stroke":"#ffffff","strokeWidth":5,"opacity":1,"size":29584,"shape":"M -0.884 0 C -0.884 -0.552 -0.488 -1 0 -1 C 0.488 -1 0.884 -0.552 0.884 0 C 0.884 0.552 0.488 1 0 1 C -0.488 1 -0.884 0.552 -0.884 0 Z"}}
 ]
},
{
 "data": {"name":"mvrv"},
 "encoding": {
  "x": {"field":"date","type":"temporal"},
  "y": {"field":"mvrv","type":"quantitative",
   "scale":{"domain":[0.565,2.144],"nice":false,"zero":false},
   "axis":{"orient":"right","title":null,"values":[0.6,0.8,1,1.2,1.4,1.6,1.8,2],"format":"~g","labelColor":"#6fd05f","labelFontSize":11,"labelPadding":4,"domain":true,"domainColor":"#5fbf4f","domainWidth":1.5,"ticks":false,"grid":false}}
 },
 "layer": [
  {"transform":[{"calculate":"max(datum.mvrv,1)","as":"up"}],"mark":{"type":"area","color":"#5cc24a","opacity":0.3},"encoding":{"y":{"field":"up","type":"quantitative"},"y2":{"datum":1}}},
  {"transform":[{"calculate":"min(datum.mvrv,1)","as":"dn"}],"mark":{"type":"area","color":"#b0504c","opacity":0.35},"encoding":{"y":{"field":"dn","type":"quantitative"},"y2":{"datum":1}}},
  {"mark":{"type":"rule","color":"#6fd05f","strokeDash":[3,3],"strokeWidth":1},"encoding":{"x":null,"y":{"datum":1}}},
  {"mark":{"type":"line","strokeWidth":2},"encoding":{"color":{"datum":"MVRV_STH","type":"nominal"}}}
 ]
}
],
"resolve": {"scale":{"y":"independent"},"axis":{"y":"independent"}}
}
